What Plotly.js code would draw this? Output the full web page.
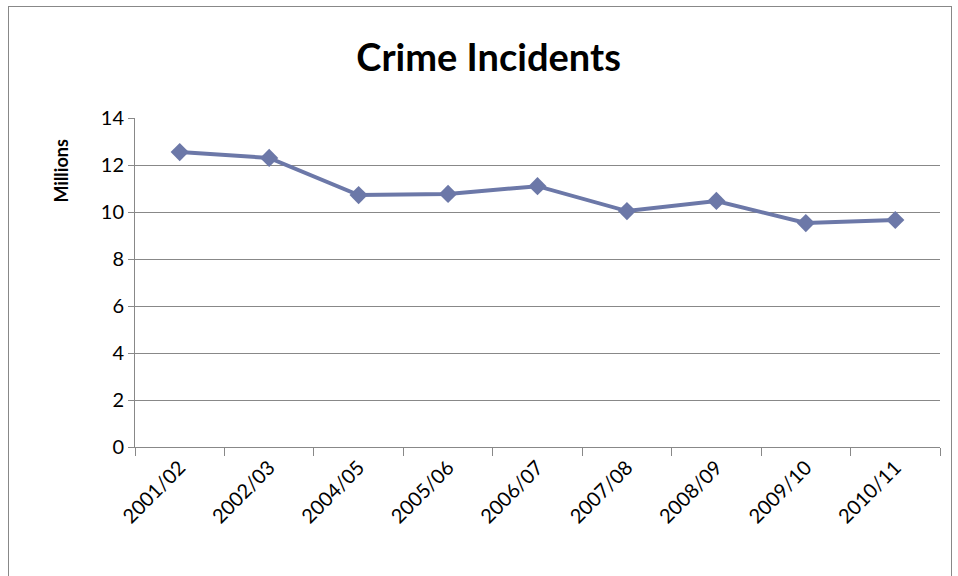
<!DOCTYPE html>
<html>
<head>
<script src="https://cdn.plot.ly/plotly-3.0.1.min.js"></script>
<style>
  html, body { margin: 0; padding: 0; background: #fff; }
  #chart { width: 958px; height: 576px; }
  #frame { position: absolute; left: 8px; top: 6px; width: 942px; height: 580px; border: 1px solid #888; pointer-events: none; }
</style>
</head>
<body>
<div id="chart"></div>
<div id="frame"></div>
<script>
const years = ["2001/02", "2002/03", "2004/05", "2005/06", "2006/07", "2007/08", "2008/09", "2009/10", "2010/11"];
const incidents = [12.55, 12.3, 10.72, 10.77, 11.1, 10.04, 10.47, 9.53, 9.66];

const data = [
  {
    x: years,
    y: incidents,
    type: "scatter",
    mode: "lines+markers",
    line: { color: "#6c78a8", width: 4 },
    marker: { symbol: "diamond", size: 14, color: "#6c78a8" },
  },
];

const layout = {
  width: 958,
  height: 576,
  paper_bgcolor: "#fff",
  plot_bgcolor: "#fff",
  font: { family: "Lato, 'Open Sans', sans-serif", size: 20, color: "#000" },
  title: { text: "<b>Crime Incidents</b>", font: { size: 38 }, x: 0.51, y: 0.9, yanchor: "middle" },
  showlegend: false,
  margin: { l: 135, r: 18, t: 118, b: 129 },
  xaxis: {
    type: "category",
    tickangle: -45,
    tickfont: { size: 20 },
    showgrid: false,
    showline: true,
    linecolor: "#888",
    ticks: "outside",
    ticklen: 8,
    tickcolor: "#888",
    tickson: "boundaries",
    range: [-0.5, 8.5],
  },
  yaxis: {
    range: [0, 14],
    dtick: 2,
    tickfont: { size: 20 },
    showgrid: true,
    gridcolor: "#888",
    showline: true,
    linecolor: "#888",
    ticks: "outside",
    ticklen: 6,
    tickcolor: "#888",
    zeroline: false,
  },
  annotations: [
    {
      text: "<b>Millions</b>",
      xref: "paper",
      yref: "paper",
      x: -0.092,
      y: 0.84,
      textangle: -90,
      showarrow: false,
      xanchor: "center",
      yanchor: "middle",
      font: { size: 18 },
    },
  ],
};

Plotly.newPlot("chart", data, layout, { displayModeBar: false });
</script>
</body>
</html>
